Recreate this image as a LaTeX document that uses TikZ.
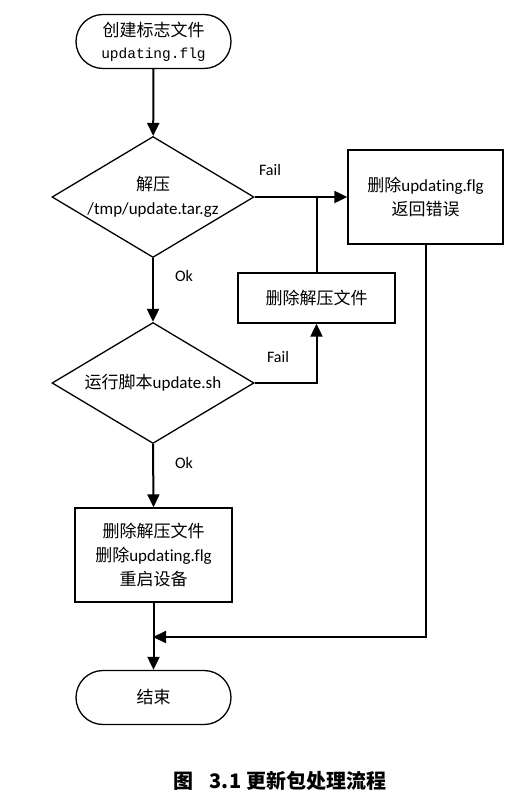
\documentclass[tikz,border=0pt]{standalone}
\usepackage{fontspec}
\setmainfont{Carlito}[Ligatures=NoCommon]
\newfontfamily\cjk{Noto Sans CJK SC}
\newfontfamily\monof{Liberation Mono}
\usetikzlibrary{arrows.meta,shapes.misc,shapes.geometric}
\begin{document}
\begin{tikzpicture}[x=1pt,y=-1pt,
  term/.style={rounded rectangle, draw, line width=1.3pt, minimum width=155pt, minimum height=54pt, inner sep=0pt},
  box/.style={rectangle, draw, line width=1.3pt, inner sep=0pt},
  dia/.style={diamond, draw, line width=1.3pt, minimum width=202pt, minimum height=121pt, inner sep=0pt},
  txt/.style={align=center, font=\fontsize{17}{24}\selectfont},
  conn/.style={line width=2pt, -{Triangle[length=13pt,width=12pt]}},
  plain/.style={line width=2pt},
  lbl/.style={font=\fontsize{16}{18}\selectfont, inner sep=0pt},
  captext/.style={font=\fontsize{20}{22}\selectfont\bfseries\cjk, inner sep=0pt}]
\useasboundingbox (0,0) rectangle (523,802);
\fill[white] (0,0) rectangle (523,802);

\node[term, align=center, font=\fontsize{17}{22}\selectfont] (start) at (153.5,41.5)
  {{\cjk 创建标志文件}\\{\fontsize{14.5}{22}\selectfont\monof updating.flg}};

\node[dia] (d1) at (153,197) {};
\node[txt] (d1t) at (153,197) {{\cjk 解压}\\/tmp/update.tar.gz};

\node[box, minimum width=155pt, minimum height=94pt, txt] (err) at (425.5,197)
  {{\cjk 删除}updating.flg\\{\cjk 返回错误}};

\node[box, minimum width=157pt, minimum height=50pt, txt] (rm) at (316.5,298)
  {\cjk 删除解压文件};

\node[dia] (d2) at (153,383) {};
\node[txt] (d2t) at (153,383) {{\cjk 运行脚本}update.sh};

\node[box, minimum width=157pt, minimum height=94pt, txt] (fin) at (153.5,555)
  {{\cjk 删除解压文件}\\{\cjk 删除}updating.flg\\{\cjk 重启设备}};

\node[term, txt] (end) at (153.5,697.5) {\cjk 结束};

\coordinate (j) at (153,637);

\draw[conn] (start) -- (d1);
\draw[conn] (d1.east) -- (err.west);
\draw[plain] (rm.north) -- (rm.north |- d1.east);
\draw[conn] (d1.south) -- (d2.north);
\draw[conn] (d2.east) -| (rm.south);
\draw[conn] (d2.south) -- (fin.north);
\draw[conn] (fin.south) -- (end.north);
\draw[conn] (err.south) |- (j);

\node[lbl] (f1) at (270,170) {Fail};
\node[lbl] (f2) at (278,357) {Fail};
\node[lbl] (o1) at (184,276) {Ok};
\node[lbl] (o2) at (184,463) {Ok};

\node[captext] (caption) at (280,781) {图\hspace{16pt}3.1\hspace{5pt}更新包处理流程};
\end{tikzpicture}
\end{document}
